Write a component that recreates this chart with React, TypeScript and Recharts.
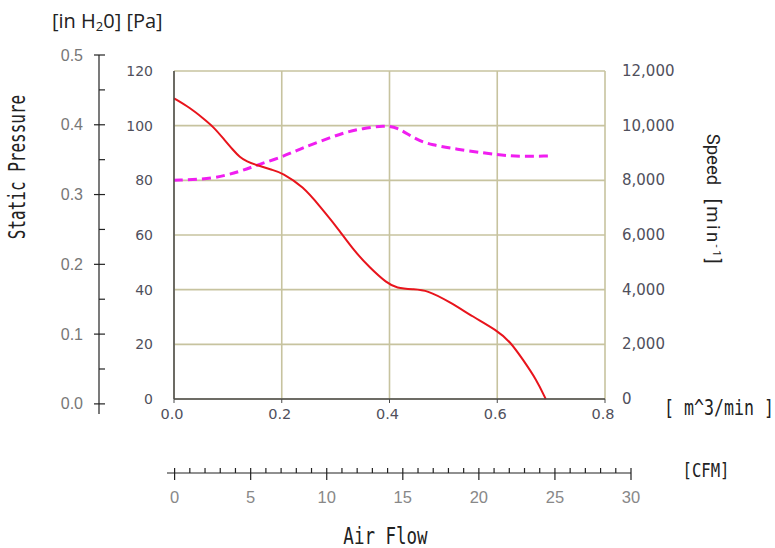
import React from 'react'
import { ComposedChart, Line, XAxis, YAxis, CartesianGrid } from 'recharts'

// static pressure curve, [m^3/min] vs [Pa]
const pressureFlow = [0, 0.03, 0.054, 0.073, 0.092, 0.11, 0.122, 0.135, 0.153, 0.184, 0.2, 0.24, 0.271, 0.302, 0.333, 0.364, 0.395, 0.413, 0.444, 0.469, 0.512, 0.555, 0.599, 0.624, 0.648, 0.673, 0.69]
const pressurePa = [110, 106.5, 102.7, 99.6, 95.2, 91, 88.5, 86.9, 85.6, 83.7, 82.8, 77.7, 70.4, 63, 54.5, 47.9, 42.4, 40.6, 40.1, 39.9, 35.5, 30.1, 25.2, 21, 14.3, 7, 0]

// speed curve, [m^3/min] vs [min-1]
const speedFlow = [0, 0.072, 0.122, 0.154, 0.2, 0.234, 0.271, 0.314, 0.35, 0.39, 0.414, 0.444, 0.475, 0.543, 0.6, 0.642, 0.695]
const speedRpm = [8000, 8050, 8320, 8560, 8850, 9150, 9420, 9740, 9900, 10000, 9950, 9550, 9290, 9090, 8930, 8870, 8890]

const flowTicks = [0, 0.2, 0.4, 0.6, 0.8]
const paTicks = [0, 20, 40, 60, 80, 100, 120]
const rpmTicks = [0, 2000, 4000, 6000, 8000, 10000, 12000]
const inH2OTicks = [0, 0.05, 0.1, 0.15, 0.2, 0.25, 0.3, 0.35, 0.4, 0.45, 0.5]
const cfmTicks = [0, 1, 2, 3, 4, 5, 6, 7, 8, 9, 10, 11, 12, 13, 14, 15, 16, 17, 18, 19, 20, 21, 22, 23, 24, 25, 26, 27, 28, 29, 30]

const pressureData = pressureFlow.map((q, i) => ({ q, pa: pressurePa[i] }))
const speedData = speedFlow.map((q, i) => ({ q, rpm: speedRpm[i] }))
const inH2OData = inH2OTicks.map((v, i) => ({ i, v }))
const cfmData = cfmTicks.map((c) => ({ c, y: 0 }))

const GRID = '#c7c39f'
const AXIS = '#4a4a4a'
const MONO = '"DejaVu Sans Mono", monospace'

const PaTick = (p: any) => (
  <text x={p.x - 21} y={p.y} textAnchor="end" dominantBaseline="central" fontFamily="DejaVu Sans" fontSize={14} fill="#50505c">
    {p.payload.value}
  </text>
)

const RpmTick = (p: any) => (
  <text x={p.x + 17} y={p.y} textAnchor="start" dominantBaseline="central" fontFamily="DejaVu Sans" fontSize={15} fill="#50505c">
    {p.payload.value.toLocaleString('en-US')}
  </text>
)

const FlowTick = (p: any) => (
  <text x={p.x - 2} y={p.y + 11} textAnchor="middle" dominantBaseline="central" fontFamily="DejaVu Sans" fontSize={14.5} fill="#50505c">
    {p.payload.value.toFixed(1)}
  </text>
)

const InH2OTick = (p: any) => {
  const major = Math.round(p.payload.value * 100) % 10 === 0
  return (
    <g>
      <line x1={major ? p.x - 5 : p.x} x2={p.x + 6} y1={p.y} y2={p.y} stroke="#222" strokeWidth={1.2} />
      {major && (
        <text x={p.x - 16} y={p.y} textAnchor="end" dominantBaseline="central" fontFamily="Liberation Sans" fontSize={16} fill="#777">
          {p.payload.value.toFixed(1)}
        </text>
      )}
    </g>
  )
}

const CfmTick = (p: any) => {
  const major = p.payload.value % 5 === 0
  return (
    <g>
      <line x1={p.x} x2={p.x} y1={p.y - 5} y2={major ? p.y + 7 : p.y} stroke="#222" strokeWidth={1.2} />
      {major && (
        <text x={p.x} y={p.y + 24} textAnchor="middle" dominantBaseline="central" fontFamily="Liberation Sans" fontSize={16.5} fill="#888">
          {p.payload.value}
        </text>
      )}
    </g>
  )
}

const abs: React.CSSProperties = { position: 'absolute', left: 0, top: 0 }

function Label({ x, y, rotate = 0, style, children }: any) {
  return (
    <div
      style={{
        position: 'absolute',
        left: x,
        top: y,
        lineHeight: 1,
        whiteSpace: 'nowrap',
        transform: `translate(-50%, -50%) rotate(${rotate}deg)`,
        ...style,
      }}
    >
      {children}
    </div>
  )
}

export default function App() {
  return (
    <div style={{ position: 'absolute', left: 0, top: 0, width: 775, height: 548, background: '#fff', overflow: 'hidden' }}>
      <div style={abs}>
        <ComposedChart width={775} height={548} margin={{ top: 71, right: 110, bottom: 119, left: 114 }}>
          <CartesianGrid stroke={GRID} strokeWidth={1.6} yAxisId="pa" />
          <XAxis
            dataKey="q"
            type="number"
            domain={[0, 0.8]}
            ticks={flowTicks}
            interval={0}
            height={30}
            axisLine={{ stroke: AXIS, strokeWidth: 1.5 }}
            tickLine={{ stroke: AXIS }}
            tickSize={4}
            tickMargin={0}
            tick={FlowTick}
          />
          <YAxis
            yAxisId="pa"
            type="number"
            domain={[0, 120]}
            ticks={paTicks}
            interval={0}
            width={60}
            axisLine={{ stroke: AXIS, strokeWidth: 1.5 }}
            tickLine={false}
            tickSize={0}
            tickMargin={0}
            tick={PaTick}
          />
          <YAxis
            yAxisId="rpm"
            orientation="right"
            type="number"
            domain={[0, 12000]}
            ticks={rpmTicks}
            interval={0}
            width={60}
            axisLine={false}
            tickLine={false}
            tickSize={0}
            tickMargin={0}
            tick={RpmTick}
          />
          <Line
            yAxisId="rpm"
            data={speedData}
            dataKey="rpm"
            type="basis"
            stroke="#f01ef0"
            strokeWidth={3}
            strokeDasharray="9 5"
            dot={false}
            isAnimationActive={false}
          />
          <Line
            yAxisId="pa"
            data={pressureData}
            dataKey="pa"
            type="basis"
            stroke="#e8141c"
            strokeWidth={2}
            dot={false}
            isAnimationActive={false}
          />
        </ComposedChart>
      </div>

      {/* outer pressure axis in inches of water */}
      <div style={abs}>
        <ComposedChart width={775} height={548} data={inH2OData} margin={{ top: 55, right: 0, bottom: 134, left: 0 }}>
          <XAxis hide dataKey="i" type="number" />
          <YAxis
            type="number"
            domain={[-0.0145, 0.5]}
            allowDataOverflow
            ticks={inH2OTicks}
            interval={0}
            width={99}
            axisLine={{ stroke: '#222', strokeWidth: 1.2 }}
            tickLine={false}
            tickSize={0}
            tickMargin={0}
            tick={InH2OTick}
          />
          <Line dataKey="v" stroke="none" dot={false} isAnimationActive={false} />
        </ComposedChart>
      </div>

      {/* air flow axis in CFM */}
      <div style={abs}>
        <ComposedChart width={775} height={548} data={cfmData} margin={{ top: 0, right: 144, bottom: 35, left: 167 }}>
          <YAxis hide type="number" domain={[0, 1]} />
          <XAxis
            dataKey="c"
            type="number"
            domain={[-0.5, 30]}
            allowDataOverflow
            ticks={cfmTicks}
            interval={0}
            height={40}
            axisLine={{ stroke: '#222', strokeWidth: 1.2 }}
            tickLine={false}
            tickSize={0}
            tickMargin={0}
            tick={CfmTick}
          />
          <Line dataKey="y" stroke="none" dot={false} isAnimationActive={false} />
        </ComposedChart>
      </div>

      <div style={{ position: 'absolute', left: 52, top: 7, fontFamily: '"Open Sans", sans-serif', fontSize: 20, color: '#222', whiteSpace: 'nowrap' }}>
        [in H<sub style={{ fontSize: 13, verticalAlign: '-3px' }}>2</sub>0] [Pa]
      </div>

      <Label x={18} y={167} rotate={-90} style={{ fontFamily: MONO, fontSize: 16, color: '#222' }}>
        <span style={{ display: 'inline-block', transform: 'scaleY(1.4)' }}>Static Pressure</span>
      </Label>

      <Label x={712.5} y={200} rotate={90} style={{ fontFamily: 'Roboto', fontSize: 18.5, color: '#222' }}>
        Speed <span style={{ marginLeft: 9, letterSpacing: 2.5 }}>[min<sup style={{ fontSize: 11, verticalAlign: '6px' }}>-1</sup>]</span>
      </Label>

      <Label x={719} y={409} style={{ fontFamily: MONO, fontSize: 16.6, color: '#222' }}>
        <span style={{ display: 'inline-block', transform: 'scaleY(1.3)' }}>[ m^3/min ]</span>
      </Label>

      <Label x={706} y={472} style={{ fontFamily: MONO, fontSize: 15.6, color: '#222' }}>
        <span style={{ display: 'inline-block', transform: 'scaleY(1.3)' }}>[CFM]</span>
      </Label>

      <Label x={385.5} y={537} style={{ fontFamily: MONO, fontSize: 17.5, color: '#222' }}>
        <span style={{ display: 'inline-block', transform: 'scaleY(1.3)' }}>Air Flow</span>
      </Label>
    </div>
  )
}
